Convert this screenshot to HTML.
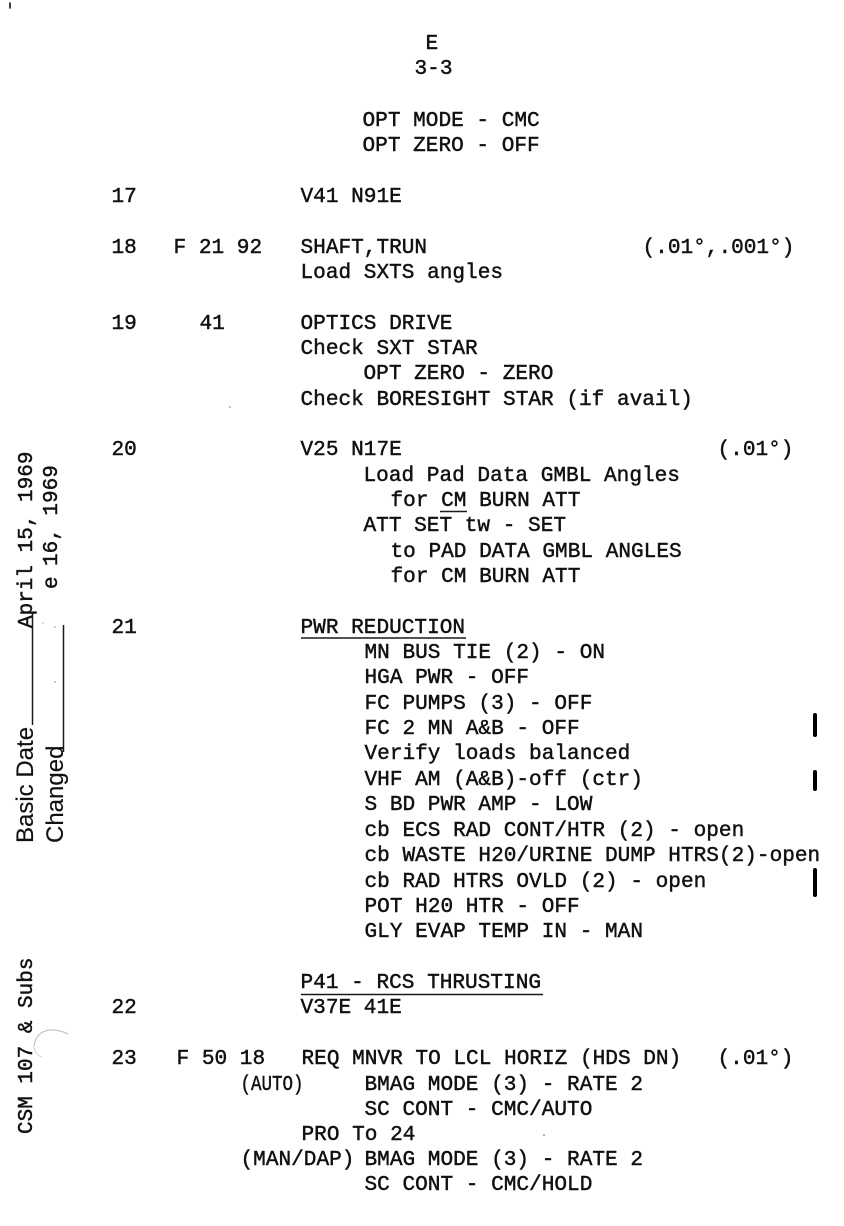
<!DOCTYPE html>
<html><head><meta charset="utf-8"><style>
html,body{margin:0;padding:0;background:#fff;width:844px;height:1226px;overflow:hidden}
svg{display:block}
text{font-family:"Liberation Mono",monospace;font-size:21.1px;fill:#111;stroke:#111;stroke-width:.45;white-space:pre}
.s{font-family:"Liberation Sans",sans-serif;font-size:24px;stroke-width:.15}
.m{font-size:21px}
</style></head><body>
<svg width="844" height="1226" viewBox="0 0 844 1226" xmlns="http://www.w3.org/2000/svg">
<rect width="844" height="1226" fill="#fff"/>
<g transform="translate(0.5,-1)">
<text x="425" y="50">E</text>
<text x="414" y="75">3-3</text>
<text x="362" y="127">OPT MODE - CMC</text>
<text x="362" y="152">OPT ZERO - OFF</text>
<text x="111" y="203">17</text>
<text x="300" y="203">V41 N91E</text>
<text x="111" y="254">18</text>
<text x="173" y="254">F 21 92</text>
<text x="300" y="254">SHAFT,TRUN</text>
<text x="642" y="254">(.01°,.001°)</text>
<text x="111" y="330">19</text>
<text x="300" y="279">Load SXTS angles</text>
<text x="199" y="330">41</text>
<text x="300" y="330">OPTICS DRIVE</text>
<text x="300" y="355">Check SXT STAR</text>
<text x="363" y="380">OPT ZERO - ZERO</text>
<text x="300" y="406">Check BORESIGHT STAR (if avail)</text>
<text x="111" y="456">20</text>
<text x="300" y="456">V25 N17E</text>
<text x="717" y="456">(.01°)</text>
<text x="363" y="482">Load Pad Data GMBL Angles</text>
<text x="390" y="507">for CM BURN ATT</text>
<text x="363" y="532">ATT SET tw - SET</text>
<text x="390" y="558">to PAD DATA GMBL ANGLES</text>
<text x="390" y="583">for CM BURN ATT</text>
<text x="111" y="634">21</text>
<text x="300" y="634">PWR REDUCTION</text>
<text x="364" y="659">MN BUS TIE (2) - ON</text>
<text x="364" y="684">HGA PWR - OFF</text>
<text x="364" y="710">FC PUMPS (3) - OFF</text>
<text x="364" y="735">FC 2 MN A&amp;B - OFF</text>
<text x="364" y="760">Verify loads balanced</text>
<text x="364" y="786">VHF AM (A&amp;B)-off (ctr)</text>
<text x="364" y="811">S BD PWR AMP - LOW</text>
<text x="364" y="837">cb ECS RAD CONT/HTR (2) - open</text>
<text x="364" y="862">cb WASTE H20/URINE DUMP HTRS(2)-open</text>
<text x="364" y="888">cb RAD HTRS OVLD (2) - open</text>
<text x="364" y="913">POT H20 HTR - OFF</text>
<text x="364" y="938">GLY EVAP TEMP IN - MAN</text>
<text x="300" y="989">P41 - RCS THRUSTING</text>
<text x="111" y="1014">22</text>
<text x="300" y="1014">V37E 41E</text>
<text x="111" y="1065">23</text>
<text x="176" y="1065">F 50 18</text>
<text x="301" y="1065">REQ MNVR TO LCL HORIZ (HDS DN)</text>
<text x="717" y="1065">(.01°)</text>
<text x="240" y="1091" textLength="63" lengthAdjust="spacingAndGlyphs">(AUTO)</text>
<text x="364" y="1091">BMAG MODE (3) - RATE 2</text>
<text x="364" y="1116">SC CONT - CMC/AUTO</text>
<text x="301" y="1141">PRO To 24</text>
<text x="240" y="1166">(MAN/DAP)</text>
<text x="364" y="1166">BMAG MODE (3) - RATE 2</text>
<text x="364" y="1191">SC CONT - CMC/HOLD</text>
</g>

<g stroke="#1a1a1a" fill="none">
<path d="M301 638H466" stroke-width="1.6"/>
<path d="M301 994.5H543" stroke-width="1.6"/>
<path d="M440 511.5H467" stroke-width="1.6"/>
<path d="M32.5 725V613" stroke-width="1.5"/>
<path d="M63.5 752V625" stroke-width="1.5"/>
</g>
<g stroke="#000" stroke-linecap="round" fill="none">
<path d="M815 715V735" stroke-width="4"/>
<path d="M815 772V789" stroke-width="4"/>
<path d="M815 870V895" stroke-width="4"/>
<path d="M10 3V8" stroke-width="1.5"/>
</g>
<path d="M34 1046C36 1032 48 1025 68 1034" stroke="#bbb" fill="none"/>
<path d="M34 1046C34 1052 38 1056 42 1057" stroke="#ccc" fill="none"/>
<circle cx="230" cy="407" r=".8" fill="#777"/>
<circle cx="544" cy="1135" r=".8" fill="#555"/>
<circle cx="55" cy="682" r=".7" fill="#777"/>
<circle cx="55" cy="627" r=".7" fill="#888"/>
<circle cx="43" cy="623" r=".7" fill="#aaa"/>

<text class="s" transform="translate(33,843) rotate(-90)">Basic Date</text>
<text class="s" transform="translate(63,843) rotate(-90)">Changed</text>
<text class="m" transform="translate(32,628) rotate(-90)">April 15, 1969</text>
<text class="m" transform="translate(57,589) rotate(-90)">e</text>
<text class="m" transform="translate(57,566) rotate(-90)">16, 1969</text>
<text class="m" transform="translate(32,1134) rotate(-90)">CSM 107 &amp; Subs</text>
</svg>
</body></html>
